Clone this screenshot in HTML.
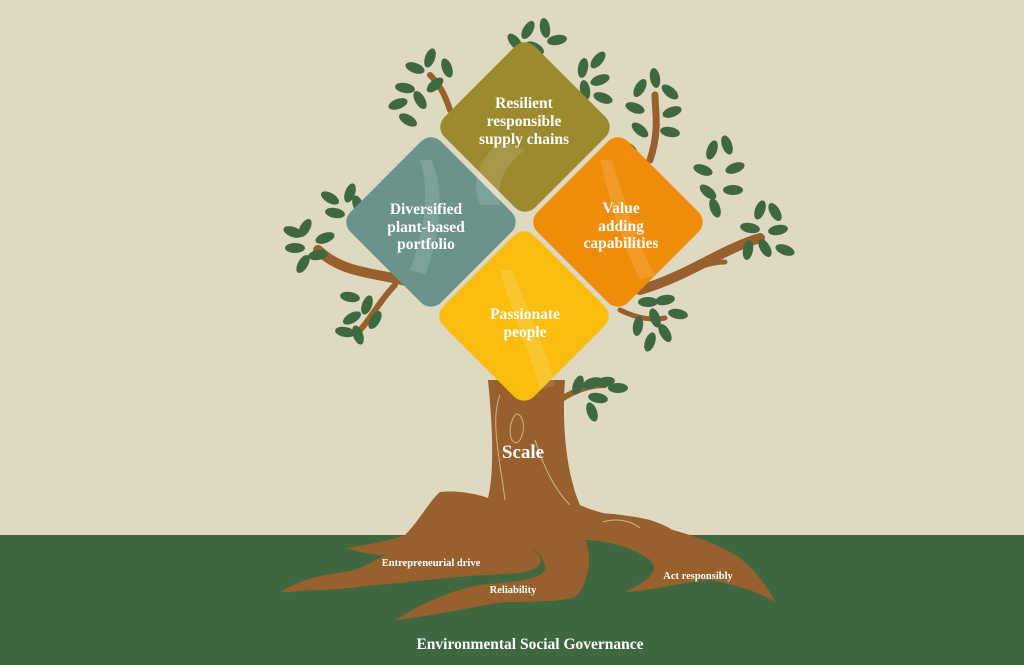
<!DOCTYPE html>
<html><head><meta charset="utf-8"><style>
html,body{margin:0;padding:0;background:#e0d9c1;}
svg{display:block}
text{font-family:"Liberation Serif",serif;font-weight:bold;fill:#fff;text-anchor:middle}
</style></head><body>
<svg width="1024" height="665" viewBox="0 0 1024 665" xmlns="http://www.w3.org/2000/svg">
<defs>
<ellipse id="lf" cx="0" cy="0" rx="10" ry="5" fill="#3e6940"/>
</defs>
<rect width="1024" height="665" fill="#e0d9c1"/>
<rect y="535" width="1024" height="130" fill="#3f6840"/>

<g fill="none" stroke="#97602c" stroke-linecap="round">
<path d="M430 290 C390 270 350 280 318 250" stroke-width="10"/>
<path d="M395 285 C380 300 370 320 360 330" stroke-width="6"/>
<path d="M640 290 C690 275 720 250 760 238" stroke-width="10"/>
<path d="M690 270 C705 265 715 262 725 262" stroke-width="5"/>
<path d="M650 160 C660 130 655 110 655 95" stroke-width="7"/>
<path d="M450 110 C445 95 440 85 430 75" stroke-width="6"/>
<path d="M560 400 C575 390 590 385 605 385" stroke-width="6"/>
<path d="M620 310 C640 320 655 320 665 318" stroke-width="5"/>
</g>

<g>
<use href="#lf" transform="translate(528,30) rotate(-60)"/><use href="#lf" transform="translate(545,28) rotate(-100)"/><use href="#lf" transform="translate(557,40) rotate(-10)"/><use href="#lf" transform="translate(535,48) rotate(30)"/><use href="#lf" transform="translate(515,42) rotate(-130)"/>
<use href="#lf" transform="translate(415,68) rotate(20)"/><use href="#lf" transform="translate(430,58) rotate(-70)"/><use href="#lf" transform="translate(447,68) rotate(-110)"/><use href="#lf" transform="translate(405,88) rotate(10)"/><use href="#lf" transform="translate(398,104) rotate(-20)"/><use href="#lf" transform="translate(420,100) rotate(60)"/><use href="#lf" transform="translate(435,85) rotate(-40)"/><use href="#lf" transform="translate(408,120) rotate(30)"/>
<use href="#lf" transform="translate(583,68) rotate(-80)"/><use href="#lf" transform="translate(598,60) rotate(-50)"/><use href="#lf" transform="translate(600,80) rotate(-20)"/><use href="#lf" transform="translate(585,90) rotate(-100)"/><use href="#lf" transform="translate(603,98) rotate(20)"/>
<use href="#lf" transform="translate(640,88) rotate(-60)"/><use href="#lf" transform="translate(655,78) rotate(-100)"/><use href="#lf" transform="translate(670,92) rotate(-140)"/><use href="#lf" transform="translate(635,108) rotate(20)"/><use href="#lf" transform="translate(672,112) rotate(-20)"/><use href="#lf" transform="translate(640,130) rotate(40)"/><use href="#lf" transform="translate(670,132) rotate(10)"/><use href="#lf" transform="translate(628,148) rotate(30)"/>
<use href="#lf" transform="translate(712,150) rotate(-70)"/><use href="#lf" transform="translate(727,145) rotate(-110)"/><use href="#lf" transform="translate(703,170) rotate(20)"/><use href="#lf" transform="translate(735,168) rotate(-20)"/><use href="#lf" transform="translate(708,192) rotate(40)"/><use href="#lf" transform="translate(733,190) rotate(0)"/><use href="#lf" transform="translate(715,208) rotate(70)"/>
<use href="#lf" transform="translate(760,210) rotate(-70)"/><use href="#lf" transform="translate(775,212) rotate(-120)"/><use href="#lf" transform="translate(750,228) rotate(10)"/><use href="#lf" transform="translate(778,230) rotate(-10)"/><use href="#lf" transform="translate(765,248) rotate(60)"/><use href="#lf" transform="translate(785,250) rotate(20)"/><use href="#lf" transform="translate(748,250) rotate(100)"/>
<use href="#lf" transform="translate(330,198) rotate(30)"/><use href="#lf" transform="translate(350,193) rotate(-70)"/><use href="#lf" transform="translate(335,213) rotate(10)"/><use href="#lf" transform="translate(358,205) rotate(-110)"/>
<use href="#lf" transform="translate(293,232) rotate(20)"/><use href="#lf" transform="translate(305,228) rotate(-60)"/><use href="#lf" transform="translate(325,238) rotate(-20)"/><use href="#lf" transform="translate(295,248) rotate(0)"/><use href="#lf" transform="translate(318,255) rotate(-10)"/><use href="#lf" transform="translate(303,264) rotate(-60)"/>
<use href="#lf" transform="translate(350,297) rotate(10)"/><use href="#lf" transform="translate(367,305) rotate(-70)"/><use href="#lf" transform="translate(352,318) rotate(-30)"/><use href="#lf" transform="translate(345,332) rotate(10)"/><use href="#lf" transform="translate(358,335) rotate(-110)"/><use href="#lf" transform="translate(375,320) rotate(-60)"/>
<use href="#lf" transform="translate(648,302) rotate(0)"/><use href="#lf" transform="translate(665,300) rotate(-10)"/><use href="#lf" transform="translate(655,318) rotate(70)"/><use href="#lf" transform="translate(638,326) rotate(100)"/><use href="#lf" transform="translate(678,314) rotate(10)"/><use href="#lf" transform="translate(665,333) rotate(60)"/><use href="#lf" transform="translate(650,342) rotate(110)"/>
<use href="#lf" transform="translate(578,385) rotate(-70)"/><use href="#lf" transform="translate(592,383) rotate(-20)"/><use href="#lf" transform="translate(605,382) rotate(-10)"/><use href="#lf" transform="translate(618,388) rotate(0)"/><use href="#lf" transform="translate(598,398) rotate(10)"/><use href="#lf" transform="translate(592,412) rotate(70)"/>
</g>

<g fill="#97602c">
<path d="M488 380 L565 380 C562 420 565 470 580 505 C600 515 640 520 680 532 C700 538 720 545 740 558 C755 570 770 590 775 602 C755 590 735 585 710 580 C690 580 660 590 625 592 C650 580 660 570 650 560 C630 545 600 540 585 540 C595 560 585 590 575 597 C560 602 530 602 505 602 C480 605 440 615 395 620 C420 605 450 590 480 585 C510 582 540 580 545 570 C545 560 540 552 530 548 C550 560 540 570 520 573 C480 575 440 578 400 583 C370 585 340 590 320 590 C300 590 290 593 280 592 C300 580 320 575 345 572 C360 570 370 563 385 555 C365 555 355 550 345 548 C370 545 390 540 405 535 C420 520 430 500 440 492 C460 490 480 495 488 498 C495 470 492 420 488 380 Z"/>
<path d="M570 512 C600 512 630 515 650 520 C665 525 675 530 680 537 C660 537 640 532 620 530 Z"/>
</g>
<g fill="none" stroke="#e9d7b5" stroke-width="1" opacity="0.7">
<path d="M500 395 C490 420 500 460 505 500"/>
<path d="M515 415 C505 430 512 450 520 440 C528 425 520 410 515 415"/>
<path d="M535 440 C545 470 555 490 570 505"/>
<path d="M603 522 C615 518 630 520 640 528"/>
</g>

<g>
<rect x="-64" y="-64" width="128" height="128" rx="14" fill="#9b8a2e" transform="translate(525,127) rotate(45)"/>
<rect x="-64" y="-64" width="128" height="128" rx="14" fill="#6a948b" transform="translate(431,222) rotate(45)"/>
<rect x="-64" y="-64" width="128" height="128" rx="14" fill="#ef8c0a" transform="translate(618,222) rotate(45)"/>
<rect x="-64" y="-64" width="128" height="128" rx="14" fill="#fbbe10" transform="translate(524,316) rotate(45)"/>
</g>
<g fill="#ffffff" opacity="0.12">
<path d="M500 140 C480 160 470 180 480 205 L500 205 C495 185 505 165 525 150 Z"/>
<path d="M420 160 C430 190 425 230 410 270 L425 275 C440 235 445 195 432 160 Z"/>
<path d="M600 160 C610 200 620 240 640 280 L655 275 C635 240 625 200 612 160 Z"/>
<path d="M500 270 C510 310 530 350 540 390 L555 385 C545 345 525 305 512 270 Z"/>
</g>

<text font-size="15.5"><tspan x="524" y="108">Resilient</tspan><tspan x="524" y="126">responsible</tspan><tspan x="524" y="144">supply chains</tspan></text>
<text font-size="15.5"><tspan x="426" y="214">Diversified</tspan><tspan x="426" y="232">plant-based</tspan><tspan x="426" y="249">portfolio</tspan></text>
<text font-size="15.5"><tspan x="621" y="213">Value</tspan><tspan x="621" y="231">adding</tspan><tspan x="621" y="248">capabilities</tspan></text>
<text font-size="15.5"><tspan x="525" y="319">Passionate</tspan><tspan x="525" y="337">people</tspan></text>
<text font-size="19" x="523" y="458">Scale</text>
<text font-size="10.5" x="431" y="566">Entrepreneurial drive</text>
<text font-size="10.5" x="513" y="593">Reliability</text>
<text font-size="10.5" x="698" y="579">Act responsibly</text>
<text font-size="15.5" x="530" y="649">Environmental Social Governance</text>
</svg>
</body></html>
